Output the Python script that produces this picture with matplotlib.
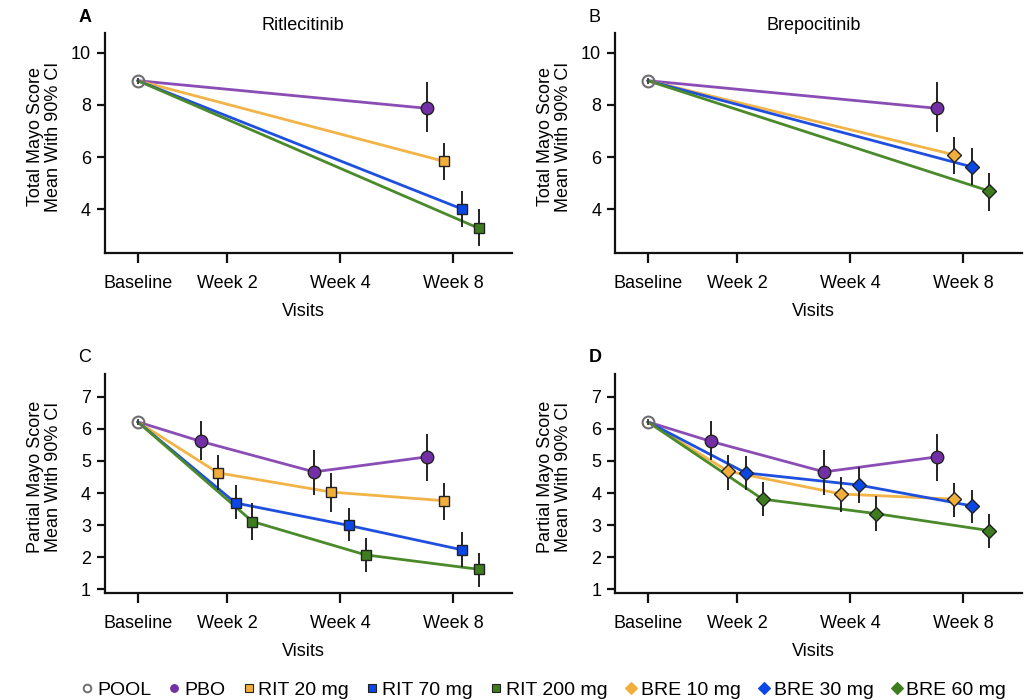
import matplotlib
matplotlib.use('Agg')
import matplotlib.pyplot as plt
from matplotlib.lines import Line2D

plt.rcParams['font.family'] = ['Liberation Sans', 'DejaVu Sans']

# ---------------- data ----------------
visits = ['Baseline', 'Week 2', 'Week 4', 'Week 8']

pool_total_mean = 8.93
pool_total_lo = 8.82
pool_total_hi = 9.04
pool_partial_mean = 6.22
pool_partial_lo = 6.12
pool_partial_hi = 6.32

# Total Mayo score at Week 8
total_labels = ['PBO', 'RIT 20 mg', 'RIT 70 mg', 'RIT 200 mg', 'BRE 10 mg', 'BRE 30 mg', 'BRE 60 mg']
total_week8_mean = [7.87, 5.84, 4.02, 3.28, 6.09, 5.63, 4.71]
total_week8_lo = [6.95, 5.12, 3.33, 2.59, 5.35, 4.92, 3.95]
total_week8_hi = [8.87, 6.55, 4.71, 4.02, 6.78, 6.34, 5.38]

# Partial Mayo score at Week 2, Week 4, Week 8
pbo_partial_mean = [5.61, 4.66, 5.13]
pbo_partial_lo = [5.03, 3.94, 4.37]
pbo_partial_hi = [6.25, 5.34, 5.85]

rit20_partial_mean = [4.63, 4.03, 3.76]
rit20_partial_lo = [4.09, 3.41, 3.16]
rit20_partial_hi = [5.20, 4.61, 4.32]

rit70_partial_mean = [3.69, 2.99, 2.23]
rit70_partial_lo = [3.20, 2.50, 1.68]
rit70_partial_hi = [4.24, 3.52, 2.79]

rit200_partial_mean = [3.11, 2.07, 1.62]
rit200_partial_lo = [2.53, 1.54, 1.06]
rit200_partial_hi = [3.68, 2.61, 2.14]

bre10_partial_mean = [4.68, 3.97, 3.81]
bre10_partial_lo = [4.11, 3.42, 3.26]
bre10_partial_hi = [5.19, 4.51, 4.32]

bre30_partial_mean = [4.63, 4.25, 3.60]
bre30_partial_lo = [4.11, 3.69, 3.07]
bre30_partial_hi = [5.16, 4.80, 4.11]

bre60_partial_mean = [3.81, 3.36, 2.83]
bre60_partial_lo = [3.29, 2.80, 2.28]
bre60_partial_hi = [4.33, 3.90, 3.36]

# ---------------- styles ----------------
tick_pos = [0.0, 0.79, 1.79, 2.79]
style = {
    'PBO':        dict(off=-0.23, marker='o', ms=9.0, mfc='#7330A6', lc='#8A4DB5'),
    'RIT 20 mg':  dict(off=-0.08, marker='s', ms=7.5, mfc='#F2AE3A', lc='#F2B446'),
    'RIT 70 mg':  dict(off=0.075, marker='s', ms=7.5, mfc='#0A47E6', lc='#1F4FDF'),
    'RIT 200 mg': dict(off=0.225, marker='s', ms=7.5, mfc='#3E7D1E', lc='#4A8A2A'),
    'BRE 10 mg':  dict(off=-0.08, marker='D', ms=7.5, mfc='#F2AE3A', lc='#F2B446'),
    'BRE 30 mg':  dict(off=0.075, marker='D', ms=7.5, mfc='#0A47E6', lc='#1F4FDF'),
    'BRE 60 mg':  dict(off=0.225, marker='D', ms=7.5, mfc='#3E7D1E', lc='#4A8A2A'),
}
edge = '#222222'
pool_edge = '#6E6E6E'


def draw_series(ax, name, week_idx, mean, lo, hi, base):
    st = style[name]
    xs = [tick_pos[i] + st['off'] for i in week_idx]
    ax.plot([tick_pos[0]] + xs, [base] + list(mean), color=st['lc'], lw=2.0,
            zorder=2, solid_capstyle='round')
    ax.errorbar(xs, mean, yerr=[[m - l for m, l in zip(mean, lo)],
                                [h - m for m, h in zip(mean, hi)]],
                fmt='none', ecolor=edge, elinewidth=1.4, capsize=0, zorder=3)
    ax.plot(xs, mean, linestyle='none', marker=st['marker'], ms=st['ms'],
            mfc=st['mfc'], mec=edge, mew=1.0, zorder=4)


def draw_pool(ax, m, lo, hi):
    ax.errorbar([tick_pos[0]], [m], yerr=[[m - lo], [hi - m]], fmt='none',
                ecolor='#444444', elinewidth=1.4, capsize=0, zorder=5)
    ax.plot([tick_pos[0]], [m], linestyle='none', marker='o', ms=8.5,
            mfc='none', mec=pool_edge, mew=1.5, zorder=6)


def style_axes(ax, ylim, yticks, ylabel):
    ax.set_xlim(-0.29, 3.31)
    ax.set_ylim(*ylim)
    ax.set_xticks(tick_pos)
    ax.set_xticklabels(visits, fontsize=13)
    ax.set_yticks(yticks)
    ax.set_yticklabels([str(t) for t in yticks], fontsize=13)
    for s in ['top', 'right']:
        ax.spines[s].set_visible(False)
    for s in ['left', 'bottom']:
        ax.spines[s].set_linewidth(1.6)
        ax.spines[s].set_color('#111111')
    ax.tick_params(axis='x', length=7.5, width=1.6, pad=8, color='#111111')
    ax.tick_params(axis='y', length=6, width=1.6, pad=4, color='#111111')
    ax.set_ylabel(ylabel, fontsize=13, linespacing=1.1)
    ax.yaxis.set_label_coords(-0.105, 0.53)
    ax.set_xlabel('Visits', fontsize=13)
    ax.xaxis.set_label_coords(0.487, -0.228)


fig = plt.figure(figsize=(10.29, 7.0), dpi=100)
axA = fig.add_axes([0.102, 0.6386, 0.3955, 0.314])
axB = fig.add_axes([0.5977, 0.6386, 0.3955, 0.314])
axC = fig.add_axes([0.102, 0.1524, 0.3955, 0.314])
axD = fig.add_axes([0.5977, 0.1524, 0.3955, 0.314])

total_ylabel = 'Total Mayo Score\nMean With 90% CI'
partial_ylabel = 'Partial Mayo Score\nMean With 90% CI'

# Panel A and B (total score, week 8 only)
for ax, names in [(axA, ['PBO', 'RIT 20 mg', 'RIT 70 mg', 'RIT 200 mg']),
                  (axB, ['PBO', 'BRE 10 mg', 'BRE 30 mg', 'BRE 60 mg'])]:
    for n in names:
        i = total_labels.index(n)
        draw_series(ax, n, [3], [total_week8_mean[i]], [total_week8_lo[i]],
                    [total_week8_hi[i]], pool_total_mean)
    draw_pool(ax, pool_total_mean, pool_total_lo, pool_total_hi)
    style_axes(ax, (2.33, 10.75), [4, 6, 8, 10], total_ylabel)

partial_rit = [
    ('PBO', pbo_partial_mean, pbo_partial_lo, pbo_partial_hi),
    ('RIT 20 mg', rit20_partial_mean, rit20_partial_lo, rit20_partial_hi),
    ('RIT 70 mg', rit70_partial_mean, rit70_partial_lo, rit70_partial_hi),
    ('RIT 200 mg', rit200_partial_mean, rit200_partial_lo, rit200_partial_hi),
]
partial_bre = [
    ('PBO', pbo_partial_mean, pbo_partial_lo, pbo_partial_hi),
    ('BRE 10 mg', bre10_partial_mean, bre10_partial_lo, bre10_partial_hi),
    ('BRE 30 mg', bre30_partial_mean, bre30_partial_lo, bre30_partial_hi),
    ('BRE 60 mg', bre60_partial_mean, bre60_partial_lo, bre60_partial_hi),
]
for ax, group in [(axC, partial_rit), (axD, partial_bre)]:
    for n, m, lo, hi in group:
        draw_series(ax, n, [1, 2, 3], m, lo, hi, pool_partial_mean)
    draw_pool(ax, pool_partial_mean, pool_partial_lo, pool_partial_hi)
    style_axes(ax, (0.87, 7.73), [1, 2, 3, 4, 5, 6, 7], partial_ylabel)

axA.text(0.487, 1.036, 'Ritlecitinib', transform=axA.transAxes, ha='center',
         va='center', fontsize=13)
axB.text(0.487, 1.036, 'Brepocitinib', transform=axB.transAxes, ha='center',
         va='center', fontsize=13)

fig.text(0.0826, 0.9757, 'A', fontsize=13, fontweight='bold', ha='center', va='center')
fig.text(0.578, 0.9757, 'B', fontsize=13, ha='center', va='center')
fig.text(0.0826, 0.4886, 'C', fontsize=13, ha='center', va='center')
fig.text(0.578, 0.4886, 'D', fontsize=13, fontweight='bold', ha='center', va='center')

# Legend
handles = [Line2D([], [], linestyle='none', marker='o', ms=5.5, mfc='white',
                  mec=pool_edge, mew=1.4)]
labels = ['POOL']
for n in total_labels:
    st = style[n]
    handles.append(Line2D([], [], linestyle='none', marker=st['marker'],
                          ms=5.5 if st['marker'] != 'D' else 6.0,
                          mfc=st['mfc'], mec=edge if st['marker'] == 's' else st['mfc'],
                          mew=0.8))
    labels.append(n)
fig.legend(handles, labels, loc='center', bbox_to_anchor=(0.529, 0.0143), ncol=8,
           frameon=False, fontsize=14, handlelength=0.5, handletextpad=0.25,
           columnspacing=0.95, borderaxespad=0, borderpad=0)

fig.savefig('out.png', dpi=100)
